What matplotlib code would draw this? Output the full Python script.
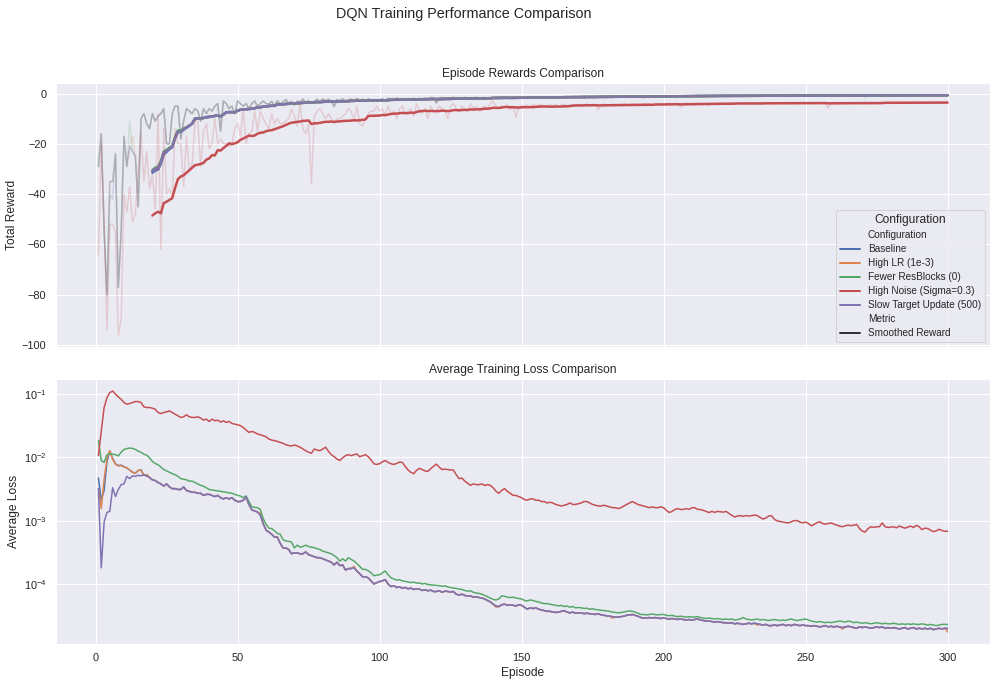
import numpy as np
import pandas as pd
import matplotlib
matplotlib.use('Agg')
import matplotlib.pyplot as plt
from matplotlib.lines import Line2D
import seaborn as sns

configs = ['Baseline', 'High LR (1e-3)', 'Fewer ResBlocks (0)',
           'High Noise (Sigma=0.3)', 'Slow Target Update (500)']
episodes = np.arange(1, 301)
window = 20

# rewards of the four stable runs are nearly identical, so they share one list
reward_shared = [
    -29, -16, -55, -80, -35, -35, -24, -77, -55, -17,
    -29, -21, -23, -25, -45, -10, -8, -12, -14, -8,
    -11, -9, -8, -6, -20, -20, -8, -5, -5, -18,
    -11, -6, -7, -8, -6, -7, -11, -6, -8, -6,
    -7, -5, -4, -15, -3, -4, -6, -5, -8, -3,
    -4, -5, -4, -6, -4, -3, -5, -4, -3, -4,
    -4.2, -3.1, -4.8, -2.9, -4.1, -3.3, -2.4, -3.9, -3.2, -4.6,
    -3.0, -3.4, -2.2, -3.7, -2.8, -3.9, -3.1, -2.3, -3.3, -2.1,
    -2.9, -2.3, -3.1, -5.2, -2.4, -2.8, -2.1, -3.0, -2.6, -2.2,
    -3.1, -2.0, -2.7, -2.3, -3.2, -2.1, -2.6, -2.4, -2.9, -2.5,
    -2.1, -2.8, -1.9, -2.3, -2.6, -1.8, -2.2, -2.7, -2.0, -2.3,
    -2.2, -1.9, -2.4, -2.0, -2.1, -1.8, -2.3, -1.6, -2.0, -3.8,
    -1.9, -1.6, -2.0, -1.7, -1.9, -1.5, -2.1, -1.8, -1.7, -1.6,
    -1.9, -1.7, -1.8, -1.5, -2.0, -1.7, -1.6, -1.9, -1.7, -1.8,
    -1.6, -1.8, -1.5, -1.7, -1.4, -1.9, -1.6, -1.5, -1.7, -1.4,
    -1.6, -1.5, -1.3, -1.7, -1.4, -1.6, -1.5, -1.4, -1.6, -1.3,
    -1.4, -1.2, -1.5, -1.3, -1.4, -1.2, -1.5, -1.3, -1.2, -1.4,
    -1.3, -1.1, -1.4, -1.2, -1.3, -1.4, -1.2, -1.3, -1.1, -1.3,
    -1.2, -1.0, -1.3, -1.1, -1.2, -1.0, -1.1, -1.3, -1.0, -1.2,
    -1.1, -1.0, -1.7, -1.0, -1.1, -0.9, -1.2, -1.0, -1.1, -1.0,
    -1.0, -0.9, -1.1, -0.8, -1.0, -0.9, -1.0, -0.9, -1.1, -0.9,
    -1.0, -0.8, -0.9, -1.0, -0.9, -1.1, -0.8, -0.9, -1.0, -0.9,
    -0.9, -1.0, -0.8, -0.9, -1.0, -0.8, -0.9, -0.8, -1.0, -0.9,
    -0.8, -0.9, -1.0, -0.8, -0.9, -0.8, -1.0, -0.9, -0.8, -0.9,
    -0.8, -0.9, -0.7, -0.8, -0.9, -0.8, -0.7, -0.9, -0.8, -0.8,
    -0.7, -0.8, -0.9, -0.7, -0.8, -0.8, -0.7, -0.9, -0.8, -0.7,
    -0.8, -0.7, -0.8, -0.7, -0.9, -0.7, -0.8, -0.7, -0.8, -0.7,
    -1.3, -0.7, -0.8, -0.7, -0.6, -0.8, -0.7, -0.8, -0.7, -0.7,
    -0.7, -0.6, -0.8, -0.7, -0.7, -0.6, -0.8, -0.7, -0.6, -0.7,
    -0.7, -0.8, -0.6, -0.7, -0.7, -0.6, -0.7, -0.8, -0.6, -0.7,
]

reward_high_noise = [
    -64, -20, -50, -94, -52, -52, -55, -96, -90, -40,
    -47, -37, -51, -48, -31, -15, -35, -23, -38, -32,
    -46, -8, -62, -14, -40, -38, -41, -14, -20, -20,
    -37, -17, -31, -28, -11, -11, -29, -15, -12, -22,
    -20, -10, -20, -18, -20, -20, -21, -20, -14, -12,
    -17, -6, -20, -16, -15, -7, -15, -7, -10, -12,
    -14, -8, -12, -10, -12, -12, -11, -10, -6, -9,
    -13, -4, -14, -16, -12, -36, -9, -7, -6, -8,
    -10, -8, -10, -12, -10, -10, -9, -8, -6, -7,
    -11, -5, -12, -13, -10, -8, -7, -7, -5, -7,
    -6, -9, -5, -8, -7, -10, -6, -5, -8, -7,
    -6, -9, -4, -7, -8, -6, -10, -5, -7, -7,
    -5, -6, -7, -10, -5, -4, -6, -7, -5, -6,
    -7, -4, -6, -5, -7, -6, -5, -6, -4, -3,
    -5.2, -6.1, -4.8, -5.5, -4.6, -6.3, -5.0, -9.5, -5.4, -4.9,
    -5.1, -4.6, -5.5, -4.3, -5.0, -4.7, -4.4, -5.2, -4.8, -4.5,
    -4.9, -4.4, -5.3, -4.6, -4.2, -5.0, -4.5, -4.8, -4.3, -4.9,
    -4.4, -4.7, -4.1, -4.9, -4.5, -4.3, -6.4, -4.6, -4.2, -4.5,
    -4.6, -4.2, -4.7, -4.3, -4.5, -4.0, -4.4, -4.8, -4.1, -4.5,
    -4.2, -4.6, -4.0, -4.4, -4.1, -4.7, -4.3, -4.0, -4.5, -4.2,
    -4.1, -3.8, -4.3, -3.9, -4.2, -5.4, -4.0, -3.7, -4.1, -3.9,
    -4.0, -3.7, -4.1, -3.8, -4.0, -4.9, -3.8, -4.1, -3.7, -3.9,
    -3.9, -4.1, -3.7, -4.0, -3.8, -3.9, -4.2, -3.7, -4.0, -3.8,
    -3.8, -4.0, -3.7, -3.9, -4.1, -3.8, -3.7, -4.0, -3.9, -3.8,
    -3.9, -3.7, -4.0, -3.8, -3.6, -3.9, -3.8, -4.0, -3.7, -3.8,
    -3.7, -3.9, -3.8, -3.6, -3.9, -3.7, -3.8, -5.9, -3.7, -3.6,
    -3.8, -3.6, -3.9, -3.7, -3.5, -3.8, -3.7, -3.6, -3.9, -3.7,
    -3.6, -3.8, -3.5, -3.7, -3.9, -3.6, -3.7, -3.5, -3.8, -3.6,
    -3.7, -3.5, -3.8, -3.6, -3.4, -3.7, -3.6, -3.8, -3.5, -3.6,
    -3.5, -3.7, -3.6, -3.4, -3.7, -3.5, -3.6, -3.8, -3.5, -3.6,
]

reward_baseline = list(reward_shared)
reward_baseline[4:6] = [-40, -42]
reward_high_lr = list(reward_shared)
reward_high_lr[12] = -17
reward_fewer_blocks = list(reward_shared)
reward_fewer_blocks[11] = -11
reward_slow_target = list(reward_shared)

loss_baseline = [
    4.7e-3, 2.1e-3, 3.0e-3, 8.5e-3, 1.25e-2, 9.6e-3, 7.9e-3, 7.4e-3, 7.5e-3, 7.1e-3,
    6.8e-3, 6.3e-3, 5.8e-3, 5.6e-3, 6.2e-3, 6.3e-3, 5.2e-3, 5.3e-3, 4.8e-3, 4.4e-3,
    4.3e-3, 4.0e-3, 3.8e-3, 3.5e-3, 3.8e-3, 3.4e-3, 3.2e-3, 3.2e-3, 3.1e-3, 3.1e-3,
    3.4e-3, 3.0e-3, 2.9e-3, 2.8e-3, 2.8e-3, 2.7e-3, 2.7e-3, 2.5e-3, 2.6e-3, 2.6e-3,
    2.5e-3, 2.4e-3, 2.5e-3, 2.3e-3, 2.2e-3, 2.3e-3, 2.2e-3, 2.3e-3, 2.1e-3, 2.0e-3,
    2.0e-3, 2.1e-3, 2.3e-3, 1.8e-3, 1.48e-3, 1.42e-3, 1.37e-3, 1.22e-3, 9.0e-4, 7.1e-4,
    6.6e-4, 6.1e-4, 5.5e-4, 5.5e-4, 4.4e-4, 3.7e-4, 3.7e-4, 3.5e-4, 3.0e-4, 3.1e-4,
    3.1e-4, 3.0e-4, 3.0e-4, 3.2e-4, 2.9e-4, 2.8e-4, 2.7e-4, 2.6e-4, 2.6e-4, 2.5e-4,
    2.4e-4, 2.3e-4, 2.2e-4, 2.0e-4, 2.2e-4, 1.95e-4, 2.0e-4, 1.66e-4, 1.75e-4, 1.75e-4,
    1.8e-4, 1.6e-4, 1.45e-4, 1.3e-4, 1.3e-4, 1.25e-4, 1.12e-4, 1.0e-4, 1.05e-4, 1.09e-4,
    1.12e-4, 1.17e-4, 1.0e-4, 9.1e-5, 9.4e-5, 8.8e-5, 9.0e-5, 8.6e-5, 8.8e-5, 8.4e-5,
    8.6e-5, 8.2e-5, 8.4e-5, 8.3e-5, 7.9e-5, 8.1e-5, 7.8e-5, 8.0e-5, 7.6e-5, 7.6e-5,
    7.8e-5, 7.4e-5, 7.7e-5, 7.6e-5, 7.5e-5, 7.6e-5, 6.9e-5, 6.7e-5, 6.9e-5, 6.6e-5,
    6.4e-5, 6.5e-5, 6.2e-5, 6.3e-5, 6.1e-5, 6.0e-5, 5.8e-5, 5.5e-5, 5.2e-5, 4.8e-5,
    4.5e-5, 4.4e-5, 4.7e-5, 4.8e-5, 4.6e-5, 4.7e-5, 4.6e-5, 4.5e-5, 4.7e-5, 4.6e-5,
    4.3e-5, 4.0e-5, 4.2e-5, 4.1e-5, 4.2e-5, 4.0e-5, 3.9e-5, 3.8e-5, 3.7e-5, 3.7e-5,
    3.6e-5, 3.55e-5, 3.6e-5, 3.7e-5, 3.8e-5, 3.6e-5, 3.5e-5, 3.6e-5, 3.45e-5, 3.5e-5,
    3.5e-5, 3.4e-5, 3.45e-5, 3.4e-5, 3.35e-5, 3.3e-5, 3.4e-5, 3.25e-5, 3.2e-5, 3.15e-5,
    3.1e-5, 3.05e-5, 3.0e-5, 3.0e-5, 3.05e-5, 3.1e-5, 3.2e-5, 3.25e-5, 3.3e-5, 3.2e-5,
    3.1e-5, 2.95e-5, 2.9e-5, 2.9e-5, 2.95e-5, 2.9e-5, 2.95e-5, 2.9e-5, 2.85e-5, 2.9e-5,
    2.85e-5, 2.8e-5, 2.85e-5, 2.8e-5, 2.75e-5, 2.8e-5, 2.75e-5, 2.7e-5, 2.75e-5, 2.7e-5,
    2.75e-5, 2.8e-5, 2.7e-5, 2.65e-5, 2.6e-5, 2.6e-5, 2.55e-5, 2.5e-5, 2.55e-5, 2.5e-5,
    2.45e-5, 2.45e-5, 2.4e-5, 2.45e-5, 2.35e-5, 2.4e-5, 2.35e-5, 2.3e-5, 2.35e-5, 2.4e-5,
    2.35e-5, 2.4e-5, 2.35e-5, 2.3e-5, 2.25e-5, 2.3e-5, 2.2e-5, 2.2e-5, 2.25e-5, 2.2e-5,
    2.25e-5, 2.3e-5, 2.2e-5, 2.25e-5, 2.2e-5, 2.3e-5, 2.25e-5, 2.2e-5, 2.25e-5, 2.2e-5,
    2.2e-5, 2.15e-5, 2.2e-5, 2.15e-5, 2.1e-5, 2.15e-5, 2.2e-5, 2.1e-5, 2.15e-5, 2.1e-5,
    2.15e-5, 2.1e-5, 2.05e-5, 2.1e-5, 2.15e-5, 2.1e-5, 2.05e-5, 2.0e-5, 2.1e-5, 2.05e-5,
    2.1e-5, 2.05e-5, 2.0e-5, 2.05e-5, 2.1e-5, 2.05e-5, 2.1e-5, 2.0e-5, 2.05e-5, 2.0e-5,
    2.05e-5, 2.0e-5, 1.95e-5, 2.0e-5, 2.05e-5, 1.95e-5, 2.0e-5, 2.05e-5, 1.95e-5, 2.0e-5,
    1.95e-5, 2.0e-5, 1.95e-5, 2.0e-5, 1.9e-5, 1.95e-5, 2.0e-5, 1.95e-5, 2.0e-5, 1.95e-5,
]

loss_fewer_blocks = [
    1.83e-2, 8.9e-3, 8.3e-3, 1.1e-2, 1.13e-2, 1.12e-2, 1.1e-2, 1.05e-2, 1.2e-2, 1.33e-2,
    1.37e-2, 1.4e-2, 1.38e-2, 1.33e-2, 1.25e-2, 1.2e-2, 1.12e-2, 1.08e-2, 9.8e-3, 8.6e-3,
    8.0e-3, 7.6e-3, 7.0e-3, 6.4e-3, 6.1e-3, 5.8e-3, 5.5e-3, 5.3e-3, 5.0e-3, 4.6e-3,
    4.5e-3, 4.4e-3, 4.2e-3, 4.2e-3, 4.0e-3, 3.8e-3, 3.6e-3, 3.5e-3, 3.3e-3, 3.1e-3,
    3.05e-3, 3.0e-3, 2.95e-3, 2.9e-3, 2.85e-3, 2.8e-3, 2.75e-3, 2.7e-3, 2.6e-3, 2.5e-3,
    2.45e-3, 2.3e-3, 2.45e-3, 2.0e-3, 1.65e-3, 1.62e-3, 1.6e-3, 1.5e-3, 1.08e-3, 8.8e-4,
    7.6e-4, 7.5e-4, 6.9e-4, 6.3e-4, 6.1e-4, 5.0e-4, 4.8e-4, 4.7e-4, 4.6e-4, 3.7e-4,
    4.1e-4, 3.8e-4, 3.9e-4, 4.1e-4, 3.9e-4, 3.8e-4, 3.75e-4, 3.6e-4, 3.5e-4, 3.3e-4,
    3.2e-4, 3.1e-4, 3.0e-4, 2.8e-4, 2.6e-4, 2.3e-4, 2.5e-4, 2.3e-4, 2.6e-4, 2.45e-4,
    2.3e-4, 2.1e-4, 1.9e-4, 1.7e-4, 1.7e-4, 1.62e-4, 1.5e-4, 1.35e-4, 1.38e-4, 1.4e-4,
    1.5e-4, 1.6e-4, 1.4e-4, 1.25e-4, 1.2e-4, 1.15e-4, 1.17e-4, 1.12e-4, 1.1e-4, 1.08e-4,
    1.05e-4, 1.07e-4, 1.03e-4, 1.04e-4, 1.0e-4, 1.02e-4, 9.8e-5, 9.7e-5, 9.6e-5, 9.5e-5,
    9.4e-5, 9.2e-5, 9.3e-5, 9.0e-5, 8.8e-5, 8.6e-5, 8.5e-5, 8.3e-5, 8.2e-5, 7.9e-5,
    7.7e-5, 7.8e-5, 7.4e-5, 7.2e-5, 7.1e-5, 6.9e-5, 6.6e-5, 6.3e-5, 6.0e-5, 5.7e-5,
    5.6e-5, 5.8e-5, 6.5e-5, 6.4e-5, 6.2e-5, 6.1e-5, 6.2e-5, 6.0e-5, 5.9e-5, 5.8e-5,
    5.5e-5, 5.4e-5, 5.6e-5, 5.5e-5, 5.3e-5, 5.2e-5, 5.0e-5, 4.9e-5, 4.9e-5, 4.8e-5,
    4.7e-5, 4.6e-5, 4.5e-5, 4.6e-5, 4.4e-5, 4.5e-5, 4.3e-5, 4.4e-5, 4.2e-5, 4.25e-5,
    4.2e-5, 4.1e-5, 4.15e-5, 4.0e-5, 4.05e-5, 3.95e-5, 3.9e-5, 3.85e-5, 3.8e-5, 3.75e-5,
    3.7e-5, 3.6e-5, 3.55e-5, 3.5e-5, 3.55e-5, 3.6e-5, 3.7e-5, 3.75e-5, 3.7e-5, 3.6e-5,
    3.45e-5, 3.3e-5, 3.3e-5, 3.25e-5, 3.3e-5, 3.35e-5, 3.3e-5, 3.25e-5, 3.3e-5, 3.3e-5,
    3.2e-5, 3.15e-5, 3.2e-5, 3.1e-5, 3.05e-5, 3.1e-5, 3.05e-5, 3.0e-5, 3.05e-5, 3.0e-5,
    3.0e-5, 3.05e-5, 2.95e-5, 2.9e-5, 2.85e-5, 2.9e-5, 2.85e-5, 2.8e-5, 2.85e-5, 2.8e-5,
    2.75e-5, 2.8e-5, 2.75e-5, 2.8e-5, 2.7e-5, 2.75e-5, 2.8e-5, 2.95e-5, 2.8e-5, 2.75e-5,
    2.7e-5, 2.75e-5, 2.8e-5, 2.7e-5, 2.75e-5, 2.7e-5, 2.65e-5, 2.7e-5, 2.75e-5, 2.7e-5,
    2.65e-5, 2.7e-5, 2.65e-5, 2.75e-5, 2.8e-5, 2.7e-5, 2.65e-5, 2.7e-5, 2.75e-5, 2.8e-5,
    2.7e-5, 2.6e-5, 2.55e-5, 2.5e-5, 2.55e-5, 2.5e-5, 2.45e-5, 2.5e-5, 2.45e-5, 2.5e-5,
    2.55e-5, 2.6e-5, 2.55e-5, 2.5e-5, 2.6e-5, 2.55e-5, 2.45e-5, 2.5e-5, 2.45e-5, 2.4e-5,
    2.45e-5, 2.4e-5, 2.35e-5, 2.4e-5, 2.45e-5, 2.4e-5, 2.35e-5, 2.4e-5, 2.35e-5, 2.35e-5,
    2.4e-5, 2.35e-5, 2.3e-5, 2.35e-5, 2.3e-5, 2.35e-5, 2.3e-5, 2.35e-5, 2.3e-5, 2.3e-5,
    2.35e-5, 2.3e-5, 2.25e-5, 2.3e-5, 2.25e-5, 2.2e-5, 2.25e-5, 2.3e-5, 2.3e-5, 2.3e-5,
]

loss_high_noise = [
    1.07e-2, 2.6e-2, 6.1e-2, 8.75e-2, 1.05e-1, 1.11e-1, 9.89e-2, 8.97e-2, 8.24e-2, 7.31e-2,
    6.89e-2, 7.05e-2, 7.31e-2, 7.58e-2, 7.58e-2, 7.31e-2, 6.25e-2, 6.1e-2, 6.1e-2, 5.95e-2,
    5.74e-2, 5.09e-2, 4.9e-2, 5.09e-2, 5.2e-2, 5.4e-2, 5.09e-2, 4.8e-2, 4.51e-2, 4.25e-2,
    4.35e-2, 4.68e-2, 4.35e-2, 4.25e-2, 4.25e-2, 4.35e-2, 4.15e-2, 3.86e-2, 4.0e-2, 3.67e-2,
    4.0e-2, 3.77e-2, 3.86e-2, 3.59e-2, 3.77e-2, 3.55e-2, 3.67e-2, 3.42e-2, 3.34e-2, 3.26e-2,
    3.15e-2, 2.96e-2, 2.69e-2, 2.47e-2, 2.56e-2, 2.47e-2, 2.33e-2, 2.27e-2, 2.19e-2, 2.11e-2,
    1.94e-2, 1.87e-2, 1.83e-2, 1.78e-2, 1.72e-2, 1.66e-2, 1.58e-2, 1.53e-2, 1.51e-2, 1.56e-2,
    1.51e-2, 1.44e-2, 1.35e-2, 1.27e-2, 1.2e-2, 1.16e-2, 1.35e-2, 1.3e-2, 1.27e-2, 1.35e-2,
    1.44e-2, 1.24e-2, 1.1e-2, 1.02e-2, 9.4e-3, 8.9e-3, 9.8e-3, 1.06e-2, 1.1e-2, 1.06e-2,
    1.1e-2, 1.13e-2, 1.02e-2, 1.06e-2, 1.1e-2, 1.02e-2, 9.1e-3, 7.9e-3, 7.7e-3, 7.9e-3,
    8.5e-3, 8.9e-3, 8.3e-3, 7.9e-3, 7.7e-3, 8.0e-3, 8.4e-3, 8.3e-3, 7.2e-3, 6.3e-3,
    5.8e-3, 5.5e-3, 6.2e-3, 6.7e-3, 6.4e-3, 6.1e-3, 6.0e-3, 6.6e-3, 7.2e-3, 7.8e-3,
    7.0e-3, 6.4e-3, 6.5e-3, 6.4e-3, 6.3e-3, 6.3e-3, 5.3e-3, 4.6e-3, 4.7e-3, 4.2e-3,
    3.9e-3, 3.6e-3, 3.8e-3, 3.7e-3, 3.7e-3, 3.8e-3, 3.6e-3, 3.7e-3, 3.6e-3, 3.3e-3,
    2.9e-3, 2.7e-3, 3.0e-3, 3.2e-3, 2.9e-3, 2.7e-3, 2.5e-3, 2.5e-3, 2.4e-3, 2.3e-3,
    2.15e-3, 2.1e-3, 2.2e-3, 2.2e-3, 2.1e-3, 2.1e-3, 2.0e-3, 2.0e-3, 1.9e-3, 1.95e-3,
    1.9e-3, 1.8e-3, 1.75e-3, 1.7e-3, 1.75e-3, 1.8e-3, 1.9e-3, 1.8e-3, 1.8e-3, 1.85e-3,
    1.9e-3, 2.0e-3, 2.0e-3, 1.9e-3, 1.8e-3, 1.75e-3, 1.7e-3, 1.7e-3, 1.75e-3, 1.7e-3,
    1.65e-3, 1.6e-3, 1.6e-3, 1.55e-3, 1.6e-3, 1.7e-3, 1.8e-3, 1.9e-3, 2.0e-3, 1.9e-3,
    1.8e-3, 1.75e-3, 1.7e-3, 1.65e-3, 1.6e-3, 1.65e-3, 1.6e-3, 1.6e-3, 1.65e-3, 1.6e-3,
    1.45e-3, 1.34e-3, 1.4e-3, 1.5e-3, 1.55e-3, 1.5e-3, 1.5e-3, 1.55e-3, 1.5e-3, 1.6e-3,
    1.6e-3, 1.5e-3, 1.5e-3, 1.45e-3, 1.4e-3, 1.34e-3, 1.4e-3, 1.35e-3, 1.4e-3, 1.38e-3,
    1.36e-3, 1.4e-3, 1.3e-3, 1.22e-3, 1.14e-3, 1.18e-3, 1.2e-3, 1.17e-3, 1.2e-3, 1.18e-3,
    1.2e-3, 1.22e-3, 1.2e-3, 1.12e-3, 1.06e-3, 1.1e-3, 1.18e-3, 1.2e-3, 1.05e-3, 9.9e-4,
    9.7e-4, 9.5e-4, 9.3e-4, 9.2e-4, 9.6e-4, 1.0e-3, 1.0e-3, 9.5e-4, 9.2e-4, 9.5e-4,
    9.0e-4, 8.3e-4, 8.7e-4, 9.3e-4, 9.6e-4, 9.0e-4, 8.8e-4, 9.0e-4, 9.2e-4, 8.8e-4,
    8.5e-4, 8.2e-4, 8.0e-4, 8.3e-4, 8.5e-4, 8.3e-4, 8.5e-4, 8.7e-4, 7.5e-4, 6.8e-4,
    6.6e-4, 7.5e-4, 8.0e-4, 7.8e-4, 8.0e-4, 8.0e-4, 9.2e-4, 8.0e-4, 7.8e-4, 7.9e-4,
    8.0e-4, 7.7e-4, 8.2e-4, 7.9e-4, 7.6e-4, 7.9e-4, 8.2e-4, 7.8e-4, 8.4e-4, 8.0e-4,
    7.2e-4, 7.6e-4, 7.5e-4, 7.1e-4, 6.7e-4, 6.9e-4, 7.3e-4, 7.0e-4, 6.8e-4, 6.8e-4,
]

# the high-LR and slow-target runs only differ from baseline early on
loss_high_lr = list(loss_baseline)
loss_high_lr[:10] = [3.2e-3, 1.55e-3, 4.5e-3, 9.5e-3, 1.27e-2, 9.2e-3, 7.8e-3, 7.3e-3, 7.4e-3, 7.0e-3]
loss_high_lr[57] = 1.3e-3
loss_high_lr[90] = 1.9e-4
loss_high_lr[140] = 4.3e-5
loss_high_lr[181] = 2.9e-5
loss_high_lr[232] = 2.25e-5
loss_high_lr[262] = 1.95e-5
loss_high_lr[299] = 1.75e-5

loss_slow_target = list(loss_baseline)
loss_slow_target[:18] = [3.2e-3, 1.8e-4, 9.5e-4, 1.35e-3, 1.4e-3, 3.3e-3, 2.4e-3, 3.1e-3, 3.7e-3,
                         3.8e-3, 5.0e-3, 4.6e-3, 5.1e-3, 5.0e-3, 5.2e-3, 5.1e-3, 5.3e-3, 5.0e-3]
loss_slow_target[52] = 2.4e-3
loss_slow_target[299] = 2.0e-5

rewards = [reward_baseline, reward_high_lr, reward_fewer_blocks,
           reward_high_noise, reward_slow_target]
losses = [loss_baseline, loss_high_lr, loss_fewer_blocks,
          loss_high_noise, loss_slow_target]

sns.set_theme(style='darkgrid')
plt.rcParams['font.family'] = ['Liberation Sans', 'DejaVu Sans']
colors = sns.color_palette('deep', 5)

fig = plt.figure(figsize=(996 / 72, 685 / 72), dpi=72)
ax1 = fig.add_axes([0.0562, 0.4934, 0.9378, 0.3854])
ax2 = fig.add_axes([0.0562, 0.0599, 0.9378, 0.3868], sharex=ax1)

# smoothed first, raw on top with low alpha
for r, c in zip(rewards, colors):
    smooth = pd.Series(r, index=episodes).rolling(window).mean()
    ax1.plot(episodes, smooth, color=c, linewidth=2.5)
for r, c in zip(rewards, colors):
    ax1.plot(episodes, r, color=c, alpha=0.2, linewidth=1.5)

ax1.set_title('Episode Rewards Comparison', fontsize=12)
ax1.set_ylabel('Total Reward', fontsize=12)
ax1.tick_params(labelbottom=False, labelsize=11)

handles = [Line2D([], [], linestyle='none')]
labels = ['Configuration']
for name, c in zip(configs, colors):
    handles.append(Line2D([], [], color=c, linewidth=2))
    labels.append(name)
handles += [Line2D([], [], linestyle='none'), Line2D([], [], color='.2', linewidth=2)]
labels += ['Metric', 'Smoothed Reward']
ax1.legend(handles, labels, title='Configuration', loc='lower right',
           fontsize=10, title_fontsize=12, labelspacing=0.4)

for l, c in zip(losses, colors):
    ax2.plot(episodes, l, color=c, linewidth=1.5)
ax2.set_yscale('log')
ax2.set_title('Average Training Loss Comparison', fontsize=12)
ax2.set_xlabel('Episode', fontsize=12)
ax2.set_ylabel('Average Loss', fontsize=12)
ax2.tick_params(labelsize=11)

fig.suptitle('DQN Training Performance Comparison', x=0.466, y=0.99, fontsize=14.4)
fig.savefig('out.png', dpi=72)
